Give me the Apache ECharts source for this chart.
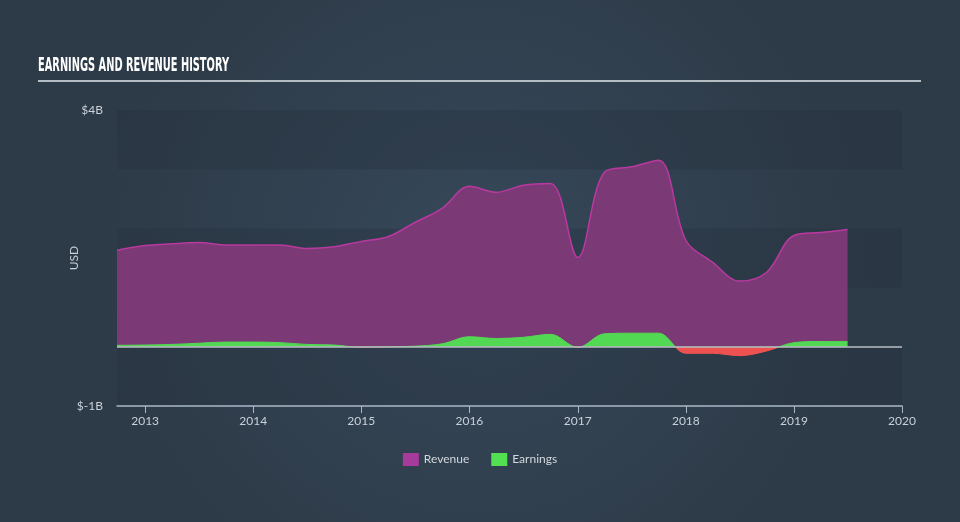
<!DOCTYPE html>
<html>
<head>
<meta charset="utf-8">
<script src="https://cdn.jsdelivr.net/npm/echarts@6/dist/echarts.min.js"></script>
<style>
html,body{margin:0;padding:0;background:#313f4e;}
#chart{width:960px;height:522px;}
</style>
</head>
<body>
<div id="chart"></div>
<script>
// ---- data (values in billions USD) ----
var dates = ['2012-09-28','2013-01-01','2013-04-01','2013-07-01','2013-10-01',
  '2014-01-01','2014-04-01','2014-07-01','2014-10-01',
  '2015-01-01','2015-04-01','2015-07-01','2015-10-01',
  '2016-01-01','2016-04-01','2016-07-01','2016-10-01',
  '2017-01-01','2017-04-01','2017-07-01','2017-10-01',
  '2018-01-01','2018-04-01','2018-07-01','2018-10-01',
  '2019-01-01','2019-04-01','2019-07-01'];
var revenue = [1.63,1.71,1.74,1.76,1.72,
  1.72,1.72,1.66,1.69,
  1.78,1.86,2.10,2.34,
  2.71,2.61,2.73,2.76,
  1.51,2.95,3.04,3.15,
  1.80,1.43,1.11,1.26,
  1.88,1.93,1.98];
var earnings = [0.025,0.03,0.04,0.06,0.08,
  0.08,0.07,0.04,0.03,
  -0.01,0.00,0.01,0.05,
  0.17,0.14,0.16,0.21,
  -0.01,0.22,0.23,0.23,
  -0.11,-0.11,-0.15,-0.07,
  0.07,0.09,0.09];
var yearTicks = [2013,2014,2015,2016,2017,2018,2019,2020];
var yTickLabels = {'4':'$4B','-1':'$-1B'};

var ts = dates.map(function(d){ return Date.parse(d + 'T00:00:00Z'); });
var revData = ts.map(function(t,i){ return [t, revenue[i]]; });
var earnData = ts.map(function(t,i){ return [t, earnings[i]]; });
var yearTs = yearTicks.map(function(y){ return Date.UTC(y,0,1); });

// title width fitting
var titleText = 'EARNINGS AND REVENUE HISTORY';
var titleFont = 'bold 20px "DejaVu Sans Condensed"';
var cv = document.createElement('canvas').getContext('2d');
cv.font = titleFont;
var tw = cv.measureText(titleText).width;
var titleScale = 191 / tw;

var chart = echarts.init(document.getElementById('chart'), null, {renderer:'canvas'});
var labelColor = '#c9d0d8';
var option = {
  backgroundColor: {
    type:'radial', x:0.5, y:0.5, r:0.75,
    colorStops:[{offset:0,color:'#36485a'},{offset:1,color:'#2d3a47'}]
  },
  animation:false,
  graphic:[
    {type:'text', left:38, top:56, scaleX:titleScale,
     style:{text:titleText, font:titleFont, fill:'#ffffff'}},
    {type:'line', shape:{x1:38,y1:81,x2:921,y2:81}, style:{stroke:'#b4bcc4', lineWidth:2}}
  ],
  legend:{
    top:448, left:'center', itemWidth:16, itemHeight:13, itemGap:22,
    icon:'rect',
    textStyle:{color:'#d2d7dd', fontSize:12, fontFamily:'Lato'},
    data:[{name:'Revenue', itemStyle:{color:'#a63b9c'}},{name:'Earnings', itemStyle:{color:'#52e052'}}]
  },
  grid:{left:117, right:58, top:110, bottom:116},
  xAxis:{
    type:'value',
    min: ts[0], max: Date.UTC(2020,0,1),
    axisLine:{show:true, onZero:false, lineStyle:{color:'#a9b8c8', width:1.5}},
    axisTick:{show:true, length:7, lineStyle:{color:'#a9b8c8', width:1}, customValues: yearTs},
    axisLabel:{color:labelColor, fontSize:12, fontFamily:'Lato', margin:9,
      customValues: yearTs,
      formatter:function(v){ return String(new Date(v).getUTCFullYear()); }},
    splitLine:{show:false}
  },
  yAxis:{
    type:'value', min:-1, max:4, interval:1,
    name:'USD', nameLocation:'middle', nameGap:37, nameMoveOverlap:false,
    nameTextStyle:{color:labelColor, fontSize:12, fontFamily:'Lato'},
    axisLine:{show:false}, axisTick:{show:false},
    axisLabel:{color:labelColor, fontSize:12, fontFamily:'Lato', margin:14,
      formatter:function(v){ var k=String(Math.round(v)); return yTickLabels[k] || ''; }},
    splitLine:{show:false},
    splitArea:{show:true, areaStyle:{color:['rgba(36,48,60,0.3)','rgba(0,0,0,0)']}}
  },
  visualMap:{
    show:false, type:'piecewise', seriesIndex:1, dimension:1,
    pieces:[{min:-5, max:0, color:'#ee5250'},{gt:0, max:5, color:'#52d852'}]
  },
  series:[
    {name:'Revenue', type:'line', data:revData, smooth:0.35, symbol:'none',
     lineStyle:{color:'#b8399f', width:1.5},
     itemStyle:{color:'#a63b9c'},
     areaStyle:{color:'#7b3a76', opacity:1}, z:2},
    {name:'Earnings', type:'line', data:earnData, smooth:0.35, symbol:'none',
     lineStyle:{width:1},
     itemStyle:{color:'#52e052'},
     areaStyle:{opacity:1}, z:3,
     markLine:{silent:true, symbol:'none', label:{show:false},
       lineStyle:{color:'#b9bfc4', width:1.5, type:'solid'},
       data:[{yAxis:0}]}}
  ]
};
chart.setOption(option);
</script>
</body>
</html>
